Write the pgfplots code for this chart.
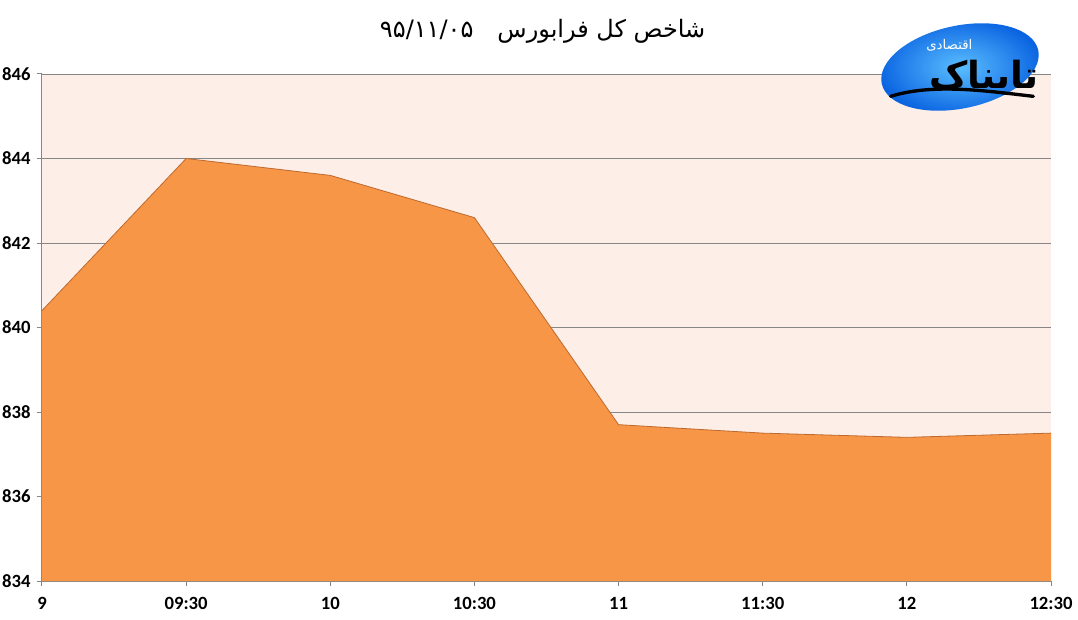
\documentclass[border=0pt]{standalone}
\usepackage{pgfplots}
\pgfplotsset{compat=1.18}
\usepackage{fontspec}
\setmainfont{Carlito}
\newfontfamily\arabicfont[Script=Arabic]{DejaVu Sans}
\TeXXeTstate=1
\definecolor{areafill}{RGB}{247,150,70}
\definecolor{areaedge}{RGB}{190,105,45}
\definecolor{bgpink}{RGB}{253,238,232}
\definecolor{gridgray}{RGB}{134,134,134}
\definecolor{logoblue}{RGB}{10,100,225}
\definecolor{logolight}{RGB}{90,190,255}
\begin{document}
\begin{tikzpicture}
\useasboundingbox (0,0) rectangle (808.5pt,464.25pt);
\begin{axis}[
  at={(31.5pt,28.5pt)}, anchor=south west,
  scale only axis, width=756.75pt, height=380.25pt,
  xmin=0, xmax=7, ymin=834, ymax=846,
  xtick={0,...,7},
  xticklabels={9,09:30,10,10:30,11,11:30,12,12:30},
  ytick={834,836,...,846},
  axis x line*=bottom, axis y line*=left,
  axis line style={draw=gridgray, line width=0.75pt, -},
  ymajorgrids, grid style={draw=gridgray, line width=0.7pt},
  tick style={draw=gridgray, line width=0.75pt},
  tick align=outside, major tick length=4pt,
  axis background/.style={fill=bgpink},
  ticklabel style={font=\fontsize{14}{16}\selectfont\bfseries},
  /pgf/number format/assume math mode=true,
  /pgf/number format/1000 sep={},
  xticklabel style={yshift=-5pt},
  yticklabel style={xshift=-1pt},
  clip=true,
]
\addplot[fill=areafill, draw=none, forget plot] coordinates {
  (0,834) (0,840.4) (1,844.0) (2,843.6) (3,842.6) (4,837.7) (5,837.5) (6,837.4) (7,837.5) (7,834)
} -- cycle;
\addplot[draw=areaedge, line width=0.6pt, mark=none] coordinates {
  (0,840.4) (1,844.0) (2,843.6) (3,842.6) (4,837.7) (5,837.5) (6,837.4) (7,837.5)
};
\end{axis}
\node at (407pt,441pt) {\arabicfont\fontsize{18}{21}\selectfont\beginR شاخص کل فرابورس\quad\beginL ۹۵/۱۱/۰۵\endL\endR};
\begin{scope}[shift={(720pt,414pt)}, rotate=12]
  \shade[inner color=logolight, outer color=logoblue] (0,0) ellipse (60pt and 31pt);
\end{scope}
\draw[black, line width=2.5pt, line cap=round] (668pt,392pt) .. controls (700pt,402pt) and (740pt,396pt) .. (775pt,392pt);
\node[text=white] at (712pt,430pt) {\arabicfont\fontsize{10}{12}\selectfont\beginR اقتصادی\endR};
\node[text=black] at (738pt,406pt) {\arabicfont\bfseries\fontsize{28}{32}\selectfont\beginR تابناک\endR};
\end{tikzpicture}
\end{document}
